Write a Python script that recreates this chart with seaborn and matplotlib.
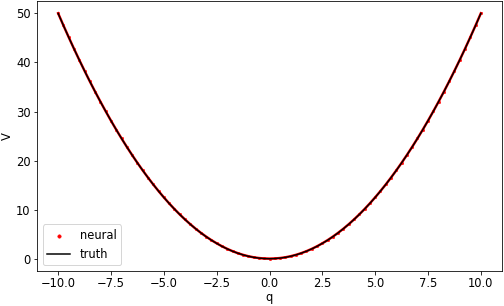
import matplotlib
matplotlib.use("Agg")
import matplotlib.pyplot as plt
import seaborn as sns
import pandas as pd

q = [-10.0, -9.75, -9.5, -9.25, -9.0, -8.75, -8.5, -8.25, -8.0, -7.75, -7.5, -7.25,
     -7.0, -6.75, -6.5, -6.25, -6.0, -5.75, -5.5, -5.25, -5.0, -4.75, -4.5, -4.25,
     -4.0, -3.75, -3.5, -3.25, -3.0, -2.75, -2.5, -2.25, -2.0, -1.75, -1.5, -1.25,
     -1.0, -0.75, -0.5, -0.25, 0.0, 0.25, 0.5, 0.75, 1.0, 1.25, 1.5, 1.75, 2.0,
     2.25, 2.5, 2.75, 3.0, 3.25, 3.5, 3.75, 4.0, 4.25, 4.5, 4.75, 5.0, 5.25, 5.5,
     5.75, 6.0, 6.25, 6.5, 6.75, 7.0, 7.25, 7.5, 7.75, 8.0, 8.25, 8.5, 8.75, 9.0,
     9.25, 9.5, 9.75, 10.0]

V_truth = [50.0, 47.53, 45.13, 42.78, 40.5, 38.28, 36.13, 34.03, 32.0, 30.03, 28.13, 26.28,
           24.5, 22.78, 21.13, 19.53, 18.0, 16.53, 15.13, 13.78, 12.5, 11.28, 10.13, 9.03,
           8.0, 7.03, 6.13, 5.28, 4.5, 3.78, 3.13, 2.53, 2.0, 1.53, 1.13, 0.78,
           0.5, 0.28, 0.13, 0.03, 0.0, 0.03, 0.13, 0.28, 0.5, 0.78, 1.13, 1.53, 2.0,
           2.53, 3.13, 3.78, 4.5, 5.28, 6.13, 7.03, 8.0, 9.03, 10.13, 11.28, 12.5, 13.78, 15.13,
           16.53, 18.0, 19.53, 21.13, 22.78, 24.5, 26.28, 28.13, 30.03, 32.0, 34.03, 36.13, 38.28, 40.5,
           42.78, 45.13, 47.53, 50.0]

V_neural = [50.02, 47.55, 45.14, 42.79, 40.51, 38.29, 36.13, 34.04, 32.01, 30.04, 28.13, 26.29,
            24.51, 22.79, 21.13, 19.54, 18.01, 16.54, 15.13, 13.79, 12.51, 11.29, 10.13, 9.04,
            8.01, 7.04, 6.13, 5.29, 4.51, 3.79, 3.14, 2.54, 2.01, 1.54, 1.13, 0.79,
            0.51, 0.29, 0.14, 0.05, 0.02, 0.05, 0.14, 0.29, 0.51, 0.79, 1.13, 1.54, 2.01,
            2.54, 3.14, 3.79, 4.51, 5.29, 6.13, 7.04, 8.01, 9.04, 10.13, 11.29, 12.51, 13.79, 15.13,
            16.54, 18.01, 19.54, 21.13, 22.79, 24.51, 26.29, 28.13, 30.04, 32.01, 34.04, 36.13, 38.29, 40.51,
            42.79, 45.14, 47.55, 50.02]

df = pd.DataFrame({"q": q, "truth": V_truth, "neural": V_neural})

plt.rcParams["font.size"] = 11.5

fig = plt.figure(figsize=(7.0, 4.25), dpi=72)
ax = fig.add_axes([37 / 504, 1 - 271 / 306, (502 - 37) / 504, (271 - 1) / 306])

# dense neural predictions: drawn as a red trace with small markers
sns.lineplot(data=df, x="q", y="neural", color="red", linewidth=2.5,
             ax=ax, zorder=2, legend=False)
sns.scatterplot(data=df, x="q", y="neural", color="red", edgecolor="red",
                s=6, linewidth=0.5, label="neural", ax=ax, zorder=2)
sns.lineplot(data=df, x="q", y="truth", color="black", linewidth=1.5,
             label="truth", ax=ax, zorder=3)
ax.set_xlabel("q", labelpad=1)
ax.set_ylabel("V", labelpad=2)
ax.tick_params(axis="x", pad=2.5)
ax.tick_params(axis="y", pad=3)
ax.legend(loc="lower left", fontsize=11.5, borderaxespad=0.5, markerscale=1.4)
fig.savefig("out.png", dpi=72)
